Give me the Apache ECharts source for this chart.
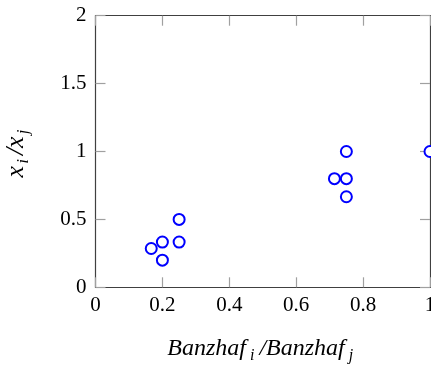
<!DOCTYPE html>
<html>
<head>
<meta charset="utf-8">
<script src="https://cdn.jsdelivr.net/npm/echarts@6/dist/echarts.min.js"></script>
<style>
  html, body { margin: 0; padding: 0; background: #fff; }
  #chart { width: 431px; height: 365px; }
</style>
</head>
<body>
<div id="chart"></div>
<script>
// ratio data
const banzhafRatio = [1 / 6, 0.2, 0.2, 0.25, 0.25, 5 / 7, 0.75, 0.75, 0.75, 1]
const xRatio = [2 / 7, 1 / 3, 0.2, 1 / 3, 0.5, 0.8, 0.8, 1, 2 / 3, 1]

const xTicks = [0, 0.2, 0.4, 0.6, 0.8, 1]
const yTicks = [0, 0.5, 1, 1.5, 2]

const chart = echarts.init(document.getElementById("chart"))

const font = "Liberation Serif"
const tickColor = "#a0a0a0"
const frameColor = "#404040"

const fmt = (v) => String(+v.toFixed(2))

const baseAxis = {
  axisLine: { show: true, onZero: false, lineStyle: { color: frameColor, width: 1.2 } },
  axisTick: { show: true, inside: true, length: 10, lineStyle: { color: tickColor, width: 1.2 } },
  splitLine: { show: false },
}

const option = {
  animation: false,
  grid: { left: 95.5, right: 1, top: 15.7, bottom: 77.7, outerBoundsMode: "none", containLabel: false },
  xAxis: [
    {
      ...baseAxis,
      type: "value",
      min: xTicks[0],
      max: xTicks[xTicks.length - 1],
      interval: 0.2,
      position: "bottom",
      axisLabel: {
        color: "#000", fontFamily: font, fontSize: 21, margin: 8,
        formatter: fmt,
      },
      name: "{a|Banzhaf}{s|i}{a|/Banzhaf}{s|j}",
      nameLocation: "middle",
      nameGap: 46,
      nameTextStyle: {
        rich: {
          a: { fontFamily: font, fontStyle: "italic", fontSize: 24, lineHeight: 30, color: "#000" },
          s: { fontFamily: font, fontStyle: "italic", fontSize: 16, lineHeight: 22, color: "#000", padding: [14, 5, 0, 4] },
        },
      },
    },
    {
      ...baseAxis,
      type: "value",
      min: xTicks[0],
      max: xTicks[xTicks.length - 1],
      interval: 0.2,
      position: "top",
      axisLabel: { show: false },
    },
  ],
  yAxis: [
    {
      ...baseAxis,
      type: "value",
      min: yTicks[0],
      max: yTicks[yTicks.length - 1],
      interval: 0.5,
      position: "left",
      axisLabel: {
        color: "#000", fontFamily: font, fontSize: 21, margin: 9,
        formatter: fmt,
      },
      name: "{a|x}{s|i}{a|/x}{s|j}",
      nameLocation: "middle",
      nameGap: 64,
      nameRotate: 90,
      nameTextStyle: {
        rich: {
          a: { fontFamily: font, fontStyle: "italic", fontSize: 26, lineHeight: 30, color: "#000" },
          s: { fontFamily: font, fontStyle: "italic", fontSize: 17, lineHeight: 22, color: "#000", padding: [14, 4, 0, 2] },
        },
      },
    },
    {
      ...baseAxis,
      type: "value",
      min: yTicks[0],
      max: yTicks[yTicks.length - 1],
      interval: 0.5,
      position: "right",
      axisLabel: { show: false },
    },
  ],
  series: [
    {
      type: "scatter",
      data: banzhafRatio.map((b, i) => [b, xRatio[i]]),
      symbol: "circle",
      symbolSize: 11,
      clip: false,
      itemStyle: { color: "#ffffff", opacity: 1, borderColor: "#0000ff", borderWidth: 2 },
    },
  ],
}

chart.setOption(option)
</script>
</body>
</html>
